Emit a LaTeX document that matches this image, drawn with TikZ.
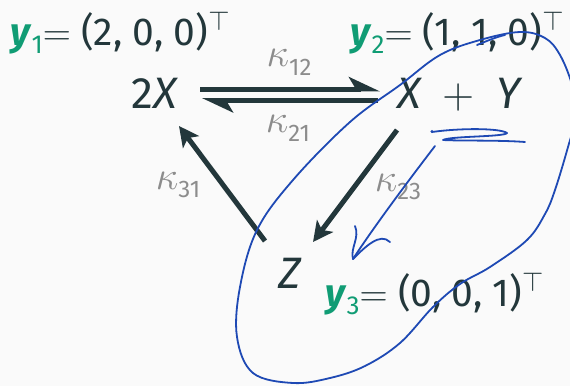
\RequirePackage{fix-cm}
\documentclass[tikz,border=0pt]{standalone}
\usepackage{fontspec}
\setmainfont{Fira Sans}
\usetikzlibrary{arrows.meta}
\definecolor{mdark}{HTML}{23373B}
\definecolor{rgray}{HTML}{8C8C8C}
\definecolor{mgreen}{HTML}{109C74}
\definecolor{inkblue}{HTML}{1E49B4}
\definecolor{bgc}{HTML}{FAFAFA}
\newcommand{\rsub}[1]{\raisebox{-0.22em}{\fontsize{24}{26}\selectfont #1}}
\newcommand{\gsub}[1]{\raisebox{-0.22em}{\fontsize{26}{28}\selectfont #1}}
\newcommand{\ylab}[2]{\textcolor{mgreen}{\textbf{\textit{y}}\gsub{#1}}$=$ #2$^{\top}$}
\begin{document}
\begin{tikzpicture}[x=1pt,y=-1pt,
  rxn/.style={draw=mdark, line width=5pt, -{Stealth[length=20pt,width=20pt,inset=5pt]}},
  harp/.style={draw=mdark, line width=5pt, -{Stealth[harpoon,length=26pt,width=24pt,inset=7pt]}},
  species/.style={font=\fontsize{44}{50}\selectfont, text=mdark, inner sep=0pt, anchor=base},
  rate/.style={font=\fontsize{40}{44}\selectfont, text=rgray, inner sep=0pt},
  cplx/.style={font=\fontsize{39}{44}\selectfont, text=mdark, inner sep=0pt, anchor=base west},
  ink/.style={draw=inkblue, line width=1.8pt, line cap=round, line join=round}]
\useasboundingbox[fill=bgc] (0,0) rectangle (570,386);
\clip (0,0) rectangle (570,386);

\node[species] (n2X) at (155,108) {2\textit{X}};
\node[species] (nXY) at (460,108) {\textit{X}\hspace{20pt}$+$\hspace{22pt}\textit{Y}};
\node[species] (nZ) at (290,288) {\textit{Z}};

\draw[harp] ([shift={(45,-19)}]n2X.base) -- ([shift={(-80,-19)}]nXY.base);
\draw[harp] ([shift={(-82,-7.5)}]nXY.base) -- ([shift={(47,-7.5)}]n2X.base);
\draw[rxn] ([shift={(-63,22)}]nXY.base) -- ([shift={(23,-46)}]nZ.base);
\draw[rxn] ([shift={(-25,-47)}]nZ.base) -- ([shift={(24,18)}]n2X.base);

\node[rate] (k12) at (289,62) {$\kappa$\rsub{12}};
\node[rate] (k21) at (288,128) {$\kappa$\rsub{21}};
\node[rate] (k31) at (178,185) {$\kappa$\rsub{31}};
\node[rate] (k23) at (398,187) {$\kappa$\rsub{23}};

\node[cplx] (c1) at (10,45) {\ylab{1}{(2, 0, 0)}};
\node[cplx] (c2) at (350,45) {\ylab{2}{(1, 1, 0)}};
\node[cplx] (c3) at (325,306) {\ylab{3}{(0, 0, 1)}};

% hand-drawn annotations
\draw[ink] plot[smooth cycle, tension=0.6] coordinates {
  (293,383) (253,373) (237,337) (240,287) (257,230) (293,180) (350,122)
  (400,85) (440,55) (480,40) (520,32) (545,38) (560,55) (572,85) (576,115)
  (568,147) (555,190) (545,214) (527,240) (490,267) (460,284) (433,307)
  (400,343) (365,366) (330,378)};
\draw[ink] (477,45) .. controls (487,41) and (496,37) .. (505,35);
\draw[ink] (432,132) .. controls (460,128) and (500,128) .. (507,133)
  .. controls (505,137) and (450,136) .. (443,140)
  .. controls (460,141) and (500,140) .. (525,142);
\fill[inkblue] (432,131.5) circle (1.6pt);
\draw[ink] (435,146) .. controls (415,172) and (375,225) .. (353,259);
\draw[ink] (355,226) .. controls (360,238) and (350,248) .. (353,259);
\draw[ink] (353,259) .. controls (365,247) and (380,232) .. (390,242);
\end{tikzpicture}
\end{document}
